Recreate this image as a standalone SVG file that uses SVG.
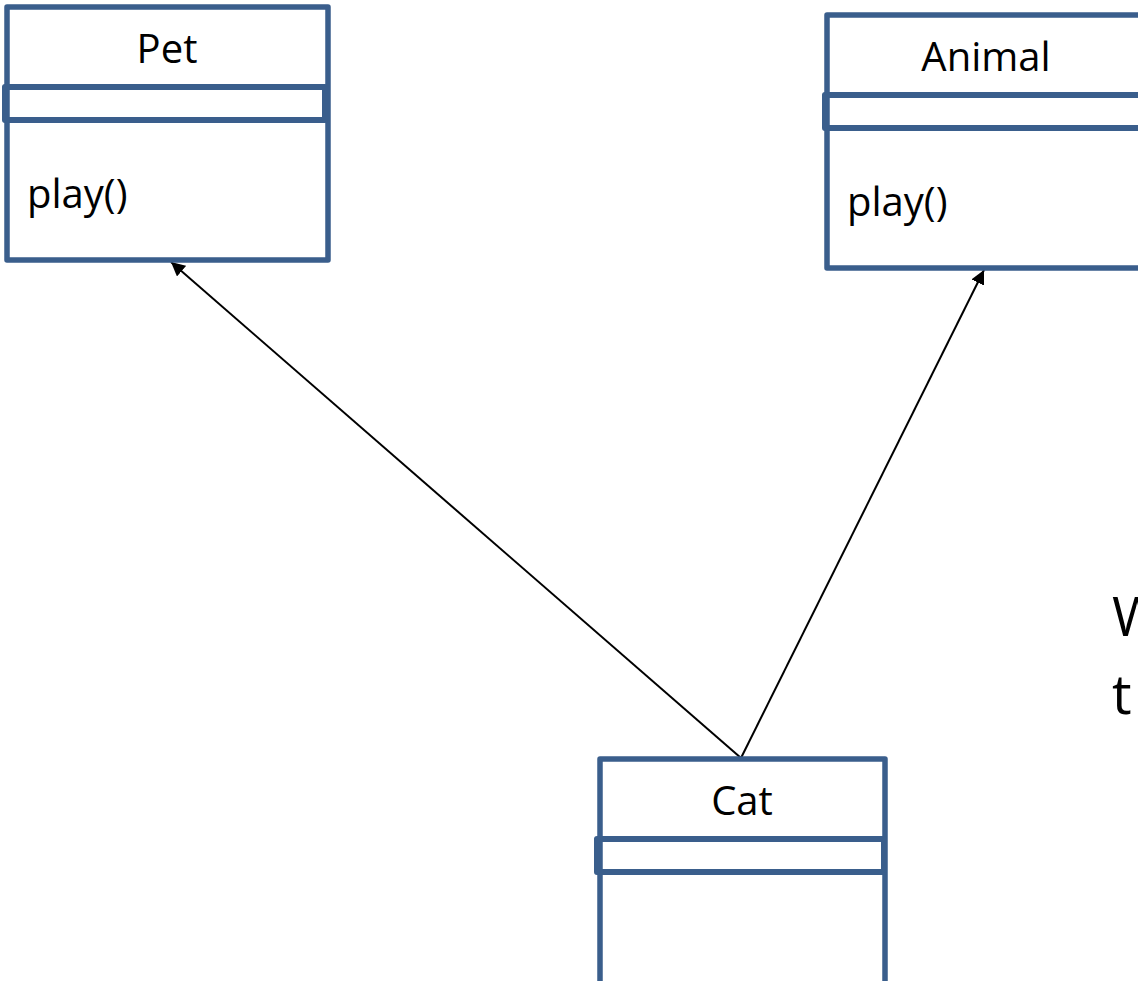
<svg xmlns="http://www.w3.org/2000/svg" width="1138" height="981" viewBox="0 0 1138 981">
  <style>
    .box { fill: #ffffff; stroke: #3A5E8C; stroke-width: 5.5; stroke-linejoin: round; }
    .band { fill: none; stroke: #3A5E8C; stroke-width: 6; stroke-linejoin: round; }
    .lbl { font-family: "Open Sans", Lato, sans-serif; font-size: 40px; fill: #000000; }
    .mid { text-anchor: middle; }
    .edge { stroke: #000000; stroke-width: 2; fill: none; marker-end: url(#head); }
    .side { font-family: "Open Sans", Lato, sans-serif; font-size: 55px; fill: #000000; }
  </style>
  <defs>
    <marker id="head" viewBox="0 0 10 10" refX="10" refY="5" markerWidth="7" markerHeight="7" orient="auto" markerUnits="strokeWidth">
      <path d="M0,0 L10,5 L0,10 z" fill="#000000"/>
    </marker>
  </defs>
  <rect width="1138" height="981" fill="#ffffff"/>

  <g id="connectors">
    <line class="edge" x1="741" y1="758" x2="171" y2="262"/>
    <line class="edge" x1="741" y1="758" x2="984" y2="270"/>
  </g>

  <g id="pet">
    <rect class="box" x="7" y="7" width="321" height="253"/>
    <rect class="band" x="5" y="87" width="320" height="33"/>
    <text class="lbl mid" x="167" y="63">Pet</text>
    <text class="lbl" x="27" y="208">play()</text>
  </g>

  <g id="animal">
    <rect class="box" x="827" y="15" width="321" height="253"/>
    <rect class="band" x="825" y="95" width="323" height="33"/>
    <text class="lbl mid" x="986" y="71">Animal</text>
    <text class="lbl" x="847" y="216">play()</text>
  </g>

  <g id="cat">
    <rect class="box" x="600" y="759" width="285" height="240"/>
    <rect class="band" x="597" y="839" width="287" height="33"/>
    <text class="lbl mid" x="742" y="815">Cat</text>
  </g>

  <g id="note">
    <text class="side" x="1112" y="636">W</text>
    <text class="side" x="1112" y="714">t</text>
  </g>
</svg>
